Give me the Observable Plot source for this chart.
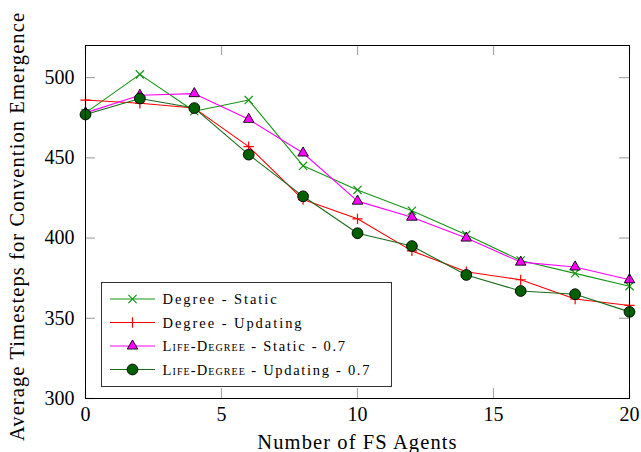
<!DOCTYPE html>
<html>
<head>
<meta charset="utf-8">
<script src="https://cdn.jsdelivr.net/npm/d3@7"></script>
<script src="https://cdn.jsdelivr.net/npm/@observablehq/plot@0.6"></script>
<style>
  html, body { margin: 0; padding: 0; background: white; }
  #wrap { position: relative; width: 641px; height: 452px; }
  #legend text { font-family: "Liberation Serif", serif; }
</style>
</head>
<body>
<div id="wrap"></div>
<script>
// ---- data ----
const fsAgents = [0, 2, 4, 6, 8, 10, 12, 14, 16, 18, 20];
const degreeStatic       = [478, 502, 479, 486, 445, 430, 417, 402, 386, 378, 370];
const degreeUpdating     = [486, 484, 481, 457, 424, 412, 392, 379, 374, 362, 358];
const lifeDegreeStatic   = [478, 489, 490, 474, 453, 423, 413, 400, 385, 382, 374];
const lifeDegreeUpdating = [477, 487, 481, 452, 426, 403, 395, 377, 367, 365, 354];
const seriesNames = ["Degree - Static", "Degree - Updating", "Life-Degree - Static - 0.7", "Life-Degree - Updating - 0.7"];
const xTicks = [0, 5, 10, 15, 20];
const yTicks = [300, 350, 400, 450, 500];
const xLabel = "Number of FS Agents";
const yLabel = "Average Timesteps for Convention Emergence";

// ---- styles ----
const styles = [
  {values: degreeStatic,       line: "#159615", symbol: "times",    r: 3.8, fill: "none",    stroke: "#159615", sw: 1.2},
  {values: degreeUpdating,     line: "#ff0000", symbol: "plus",     r: 3.4, fill: "none",    stroke: "#ff0000", sw: 1.2},
  {values: lifeDegreeStatic,   line: "#ff00ff", symbol: "triangle", r: 3.9, fill: "#ff00ff", stroke: "#000",    sw: 0.9},
  {values: lifeDegreeUpdating, line: "#1a6a1a", symbol: "circle",   r: 5.4, fill: "#006000", stroke: "#000",    sw: 0.9}
];

const W = 641, H = 452, mL = 85, mR = 12, mT = 45, mB = 54;
const plotW = W - mL - mR, plotH = H - mT - mB;
const tickLen = 10;
const tickStyle = {stroke: "#a8a8a8", strokeWidth: 1.2};

const seriesMarks = styles.flatMap((s, i) => {
  const rows = fsAgents.map((x, j) => ({x, y: s.values[j], series: seriesNames[i]}));
  return [
    Plot.line(rows, {x: "x", y: "y", stroke: s.line, strokeWidth: 1.1}),
    Plot.dot(rows, {x: "x", y: "y", symbol: () => s.symbol, r: s.r, fill: s.fill, stroke: s.stroke, strokeWidth: s.sw})
  ];
});

const chart = Plot.plot({
  width: W, height: H,
  marginLeft: mL, marginRight: mR, marginTop: mT, marginBottom: mB,
  style: {fontFamily: "'Liberation Serif', serif", fontSize: "20px", background: "white", color: "black"},
  x: {domain: [0, 20]},
  y: {domain: [300, 520]},
  marks: [
    // inside ticks on all four sides
    Plot.tickX(xTicks, {x: d => d, insetTop: plotH - tickLen, ...tickStyle}),
    Plot.tickX(xTicks, {x: d => d, insetBottom: plotH - tickLen, ...tickStyle}),
    Plot.tickY(yTicks, {y: d => d, insetRight: plotW - tickLen, ...tickStyle}),
    Plot.tickY(yTicks, {y: d => d, insetLeft: plotW - tickLen, ...tickStyle}),
    Plot.axisX(xTicks, {tickSize: 0, tickPadding: 8, fontSize: 20, label: null}),
    Plot.axisY(yTicks, {tickSize: 0, tickPadding: 11, fontSize: 20, label: null}),
    Plot.text([xLabel], {text: d => d, frameAnchor: "bottom", dy: 50, lineAnchor: "bottom", fontSize: 20.5, fill: "black"}),
    Plot.text([yLabel], {text: d => d, frameAnchor: "left", rotate: -90, dx: -76, dy: 4.5, lineAnchor: "top", textAnchor: "middle", fontSize: 20.5, fill: "black"}),
    ...seriesMarks,
    Plot.frame({stroke: "black", strokeWidth: 1})
  ]
});
d3.select(chart).selectAll("text")
  .filter(function () { return this.textContent === xLabel || this.textContent === yLabel; })
  .style("letter-spacing", "1.1px");
const wrap = document.getElementById("wrap");
wrap.appendChild(chart);

// ---- legend (overlay) ----
const LW = 290, LH = 104, rowH = 23.5, row0 = 17;
const leg = d3.create("svg").attr("id", "legend").attr("width", LW + 2).attr("height", LH + 2)
  .style("position", "absolute").style("left", "101px").style("top", "282px");
leg.append("rect").attr("x", 0.5).attr("y", 0.5).attr("width", LW).attr("height", LH)
  .attr("fill", "white").attr("stroke", "#333").attr("stroke-width", 1);
const symMap = {times: d3.symbolTimes, plus: d3.symbolPlus, triangle: d3.symbolTriangle, circle: d3.symbolCircle};
styles.forEach((s, i) => {
  const y = row0 + i * rowH;
  const g = leg.append("g");
  g.append("line").attr("x1", 9).attr("x2", 54).attr("y1", y).attr("y2", y)
    .attr("stroke", s.line).attr("stroke-width", 1.1);
  g.append("path").attr("transform", `translate(31.5,${y})`)
    .attr("d", d3.symbol(symMap[s.symbol], s.r * s.r * Math.PI)())
    .attr("fill", s.fill).attr("stroke", s.stroke).attr("stroke-width", s.sw);
  const t = g.append("text").attr("x", 61.5).attr("y", y).attr("dy", "0.35em")
    .attr("font-size", 14.5).attr("letter-spacing", "1.95px").attr("fill", "black");
  const name = seriesNames[i];
  if (name.startsWith("Life-Degree")) {
    t.append("tspan").style("font-variant", "small-caps").attr("letter-spacing", "1.1px").text("Life-Degree");
    t.append("tspan").attr("letter-spacing", "1.7px").text(name.slice("Life-Degree".length));
  } else {
    t.text(name);
  }
});
wrap.appendChild(leg.node());
</script>
</body>
</html>
